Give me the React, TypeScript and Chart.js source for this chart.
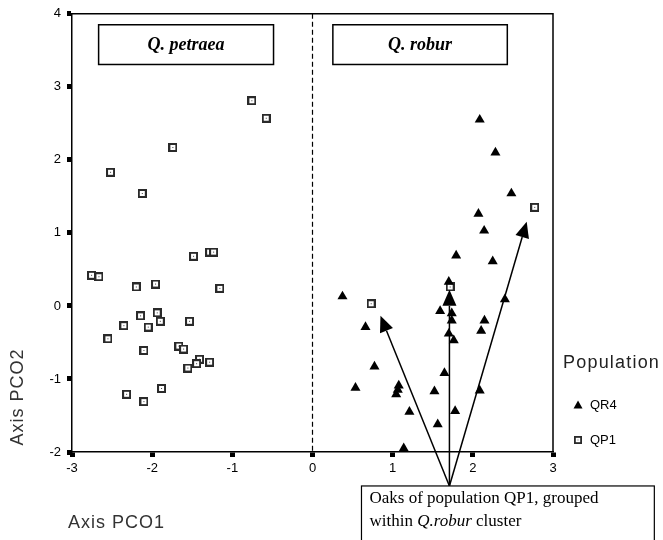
import { useEffect, useRef } from "react";
import { Chart, registerables } from "chart.js";

Chart.register(...registerables);

// ---- Data ----
const qp1X = [-0.757, -0.577, -1.742, -2.519, -2.123, -1.284, -1.234, -1.484, -2.756, -2.664, -2.198, -1.958, -1.156, -1.937, -2.145, -1.899, -1.534, -2.353, -2.049, -2.552, -1.667, -1.608, -2.103, -1.409, -1.446, -1.284, -1.555, -1.883, -2.319, -2.103, 2.772, 0.732, 1.717];
const qp1Y = [2.81, 2.57, 2.17, 1.83, 1.54, 0.737, 0.737, 0.68, 0.42, 0.4, 0.26, 0.3, 0.24, -0.095, -0.136, -0.21, -0.21, -0.27, -0.29, -0.45, -0.55, -0.59, -0.61, -0.73, -0.79, -0.77, -0.85, -1.13, -1.21, -1.31, 1.35, 0.03, 0.26];

const qr4X = [2.086, 2.282, 2.481, 2.07, 2.141, 1.792, 2.248, 1.7, 0.374, 2.4, 1.592, 1.737, 1.737, 0.661, 2.145, 2.104, 1.7, 1.762, 0.773, 1.646, 0.536, 1.076, 1.064, 1.044, 1.521, 2.086, 1.209, 1.779, 1.562, 1.138];
const qr4Y = [2.55, 2.1, 1.54, 1.26, 1.03, 0.69, 0.61, 0.33, 0.13, 0.09, -0.07, -0.1, -0.2, -0.29, -0.2, -0.34, -0.38, -0.47, -0.83, -0.92, -1.12, -1.09, -1.15, -1.21, -1.17, -1.16, -1.45, -1.44, -1.62, -1.95];

const xTicks = [-3, -2, -1, 0, 1, 2, 3];
const yTicks = [-2, -1, 0, 1, 2, 3, 4];

// arrows (data units): common base and three tips
const arrowBase = [1.708, -2.465];
const arrowTipX = [0.848, 1.708, 2.672];
const arrowTipY = [-0.136, 0.22, 1.154];

// label boxes in data units [x1, x2, yTop, yBottom]
const petraeaBox = [-2.668, -0.486, 3.85, 3.306];
const roburBox = [0.254, 2.43, 3.85, 3.306];
const noteBox = [0.611, 4.264, -2.465, -3.5];

const SANS = "'Liberation Sans', Arial, sans-serif";
const SERIF = "'Liberation Serif', 'Times New Roman', serif";

function makeSquareMarker(): HTMLCanvasElement {
  const c = document.createElement("canvas");
  c.width = 9;
  c.height = 9;
  const g = c.getContext("2d")!;
  g.fillStyle = "#2a2a2a";
  g.fillRect(0, 0, 9, 9);
  g.fillStyle = "#ffffff";
  g.fillRect(2, 2, 5, 5);
  g.fillStyle = "#444";
  g.fillRect(4, 4, 1, 1);
  return c;
}

export default function App() {
  const ref = useRef<HTMLCanvasElement | null>(null);

  useEffect(() => {
    if (!ref.current) return;
    const square = makeSquareMarker();

    const decor = {
      id: "decor",
      beforeDatasetsDraw(chart: any) {
        const { ctx, chartArea: a, scales } = chart;
        const xs = scales.x;
        const ys = scales.y;
        ctx.save();
        // frame top + right
        ctx.strokeStyle = "#000";
        ctx.lineWidth = 1.5;
        ctx.beginPath();
        ctx.moveTo(a.left, a.top);
        ctx.lineTo(a.right, a.top);
        ctx.lineTo(a.right, a.bottom);
        ctx.stroke();
        // dashed zero line
        ctx.setLineDash([5, 3]);
        ctx.lineWidth = 1.2;
        const x0 = xs.getPixelForValue(0);
        ctx.beginPath();
        ctx.moveTo(x0, a.top);
        ctx.lineTo(x0, a.bottom);
        ctx.stroke();
        ctx.setLineDash([]);

        // label boxes
        const drawBox = (b: number[], text: string) => {
          const l = xs.getPixelForValue(b[0]);
          const r = xs.getPixelForValue(b[1]);
          const t = ys.getPixelForValue(b[2]);
          const bt = ys.getPixelForValue(b[3]);
          ctx.fillStyle = "#fff";
          ctx.fillRect(l, t, r - l, bt - t);
          ctx.lineWidth = 1.5;
          ctx.strokeStyle = "#000";
          ctx.strokeRect(l, t, r - l, bt - t);
          ctx.fillStyle = "#000";
          ctx.font = `bold italic 18px ${SERIF}`;
          ctx.textAlign = "center";
          ctx.textBaseline = "middle";
          ctx.fillText(text, (l + r) / 2, (t + bt) / 2 + 1);
        };
        drawBox(petraeaBox, "Q. petraea");
        drawBox(roburBox, "Q. robur");
        ctx.restore();
      },
      afterDraw(chart: any) {
        const { ctx, chartArea: a, scales } = chart;
        const xs = scales.x;
        const ys = scales.y;
        ctx.save();
        // arrows
        const bx = xs.getPixelForValue(arrowBase[0]);
        const by = ys.getPixelForValue(arrowBase[1]);
        ctx.strokeStyle = "#000";
        ctx.fillStyle = "#000";
        ctx.lineWidth = 1.5;
        for (let i = 0; i < arrowTipX.length; i++) {
          const tx = xs.getPixelForValue(arrowTipX[i]);
          const ty = ys.getPixelForValue(arrowTipY[i]);
          const ang = Math.atan2(ty - by, tx - bx);
          const len = 16;
          const hw = 7;
          const hx = tx - Math.cos(ang) * len;
          const hy = ty - Math.sin(ang) * len;
          ctx.beginPath();
          ctx.moveTo(bx, by);
          ctx.lineTo(hx, hy);
          ctx.stroke();
          ctx.beginPath();
          ctx.moveTo(tx, ty);
          ctx.lineTo(hx + Math.sin(ang) * hw, hy - Math.cos(ang) * hw);
          ctx.lineTo(hx - Math.sin(ang) * hw, hy + Math.cos(ang) * hw);
          ctx.closePath();
          ctx.fill();
        }
        // note box
        const nl = xs.getPixelForValue(noteBox[0]);
        const nr = xs.getPixelForValue(noteBox[1]);
        const nt = ys.getPixelForValue(noteBox[2]);
        const nb = ys.getPixelForValue(noteBox[3]);
        ctx.fillStyle = "#fff";
        ctx.fillRect(nl, nt, nr - nl, nb - nt);
        ctx.lineWidth = 1.2;
        ctx.strokeRect(nl, nt, nr - nl, nb - nt);
        ctx.fillStyle = "#000";
        ctx.textAlign = "left";
        ctx.textBaseline = "middle";
        const fs = 17;
        ctx.font = `${fs}px ${SERIF}`;
        ctx.fillText("Oaks of population QP1, grouped", nl + 8, nt + 13);
        ctx.fillText("within ", nl + 8, nt + 36);
        let w = ctx.measureText("within ").width;
        ctx.font = `italic ${fs}px ${SERIF}`;
        ctx.fillText("Q.robur", nl + 8 + w, nt + 36);
        w += ctx.measureText("Q.robur").width;
        ctx.font = `${fs}px ${SERIF}`;
        ctx.fillText(" cluster", nl + 8 + w, nt + 36);

        // axis titles
        ctx.fillStyle = "#333";
        ctx.font = `18px ${SANS}`;
        (ctx as any).letterSpacing = "1px";
        ctx.textAlign = "left";
        ctx.fillText("Axis PCO1", a.left - 4, 523);
        ctx.save();
        ctx.translate(18, 397);
        ctx.rotate(-Math.PI / 2);
        ctx.textAlign = "center";
        ctx.fillText("Axis PCO2", 0, 0);
        ctx.restore();

        // legend
        const lx = a.right + 10;
        ctx.fillStyle = "#222";
        ctx.font = `18px ${SANS}`;
        (ctx as any).letterSpacing = "1.2px";
        ctx.textAlign = "left";
        ctx.fillText("Population", lx, 363);
        (ctx as any).letterSpacing = "0px";
        ctx.font = `13px ${SANS}`;
        ctx.fillStyle = "#000";
        // triangle
        const tx = lx + 15;
        const ty = 405;
        ctx.beginPath();
        ctx.moveTo(tx, ty - 4.5);
        ctx.lineTo(tx + 4.5, ty + 3.5);
        ctx.lineTo(tx - 4.5, ty + 3.5);
        ctx.closePath();
        ctx.fill();
        ctx.fillText("QR4", lx + 27, ty);
        ctx.drawImage(square, tx - 4, 440 - 4, 8, 8);
        ctx.fillText("QP1", lx + 27, 440);
        ctx.restore();
      },
    };

    const chart = new Chart(ref.current, {
      type: "scatter",
      data: {
        datasets: [
          {
            label: "QR4",
            data: qr4X.map((x, i) => ({ x, y: qr4Y[i] })),
            pointStyle: "triangle",
            pointRadius: 5.8,
            backgroundColor: "#000",
            borderColor: "#000",
            borderWidth: 0,
          },
          {
            label: "QP1",
            data: qp1X.map((x, i) => ({ x, y: qp1Y[i] })),
            pointStyle: square as any,
            pointRadius: 5,
          },
        ],
      },
      options: {
        animation: false,
        responsive: false,
        layout: { padding: { top: 13, right: 110, left: 0, bottom: 0 } },
        plugins: {
          legend: { display: false },
          tooltip: { enabled: false },
        },
        scales: {
          x: {
            type: "linear",
            min: -3,
            max: 3,
            afterFit(s: any) {
              s.height = 88;
            },
            afterBuildTicks(s: any) {
              s.ticks = xTicks.map((v) => ({ value: v }));
            },
            grid: {
              drawOnChartArea: false,
              drawTicks: true,
              tickLength: 5,
              tickWidth: 5,
              tickColor: "#000",
            },
            border: { display: true, color: "#000", width: 1.5 },
            ticks: {
              color: "#000",
              font: { family: SANS, size: 13 },
              padding: 4,
            },
          },
          y: {
            type: "linear",
            min: -2,
            max: 4,
            afterFit(s: any) {
              s.width = 72;
            },
            afterBuildTicks(s: any) {
              s.ticks = yTicks.map((v) => ({ value: v }));
            },
            grid: {
              drawOnChartArea: false,
              drawTicks: true,
              tickLength: 5,
              tickWidth: 5,
              tickColor: "#000",
            },
            border: { display: true, color: "#000", width: 1.5 },
            ticks: {
              color: "#000",
              font: { family: SANS, size: 13 },
              padding: 6,
            },
          },
        },
      },
      plugins: [decor],
    });
    return () => chart.destroy();
  }, []);

  return (
    <div style={{ position: "absolute", left: 0, top: 0, width: 663, height: 540, background: "#fff" }}>
      <canvas ref={ref} width={663} height={540} style={{ width: 663, height: 540, display: "block" }} />
    </div>
  );
}
